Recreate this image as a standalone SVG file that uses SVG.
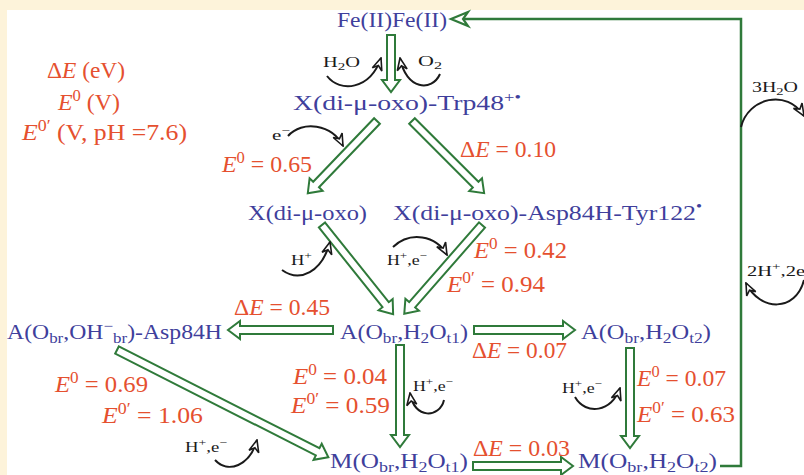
<svg xmlns="http://www.w3.org/2000/svg" width="804" height="475" viewBox="0 0 804 475">
<defs>
<style>
.n{font-family:"Liberation Serif","Times New Roman",serif;font-size:21px;fill:#3f3f9c}
.r{font-family:"Liberation Serif","Times New Roman",serif;font-size:23px;fill:#e5502f}
.k{font-family:"Liberation Serif","Times New Roman",serif;font-size:15px;fill:#1a1a1a}
.i{font-style:italic}
.ga{fill:#fff;stroke:#2f7a3a;stroke-width:2;stroke-linejoin:miter}
.gl{fill:none;stroke:#2f7a3a;stroke-width:2.5}
.ca{fill:none;stroke:#1a1a1a;stroke-width:2;marker-end:url(#oh)}
</style>
<marker id="oh" markerUnits="userSpaceOnUse" viewBox="0 0 14 12" refX="13" refY="6" markerWidth="14" markerHeight="12" orient="auto">
<path d="M1,1 L13,6 L1,11 L5,6 Z" fill="#fff" stroke="#1a1a1a" stroke-width="1.6"/>
</marker>
</defs>
<rect width="804" height="475" fill="#fdf3da"/>
<rect x="7" y="10" width="797" height="465" fill="#fff"/>

<g id="connectors">
<polygon class="ga" points="0,-4 45,-4 45,-9 57,0 45,9 45,4 0,4" transform="translate(391,35) rotate(90)"/>
<polygon class="ga" points="0,-4 88,-4 88,-9 100,0 88,9 88,4 0,4" transform="translate(377,121) rotate(133.8)"/>
<polygon class="ga" points="0,-4 90,-4 90,-9 102,0 90,9 90,4 0,4" transform="translate(412,121) rotate(45)"/>
<polygon class="ga" points="0,-4 102,-4 102,-9 114,0 102,9 102,4 0,4" transform="translate(322,225) rotate(51.4)"/>
<polygon class="ga" points="0,-4 106,-4 106,-9 118,0 106,9 106,4 0,4" transform="translate(482,225) rotate(131.2)"/>
<polygon class="ga" points="0,-4 93,-4 93,-9 105,0 93,9 93,4 0,4" transform="translate(333,330) rotate(180)"/>
<polygon class="ga" points="0,-4 89,-4 89,-9 101,0 89,9 89,4 0,4" transform="translate(474,330)"/>
<polygon class="ga" points="0,-4 90,-4 90,-9 102,0 90,9 90,4 0,4" transform="translate(400,345) rotate(90)"/>
<polygon class="ga" points="0,-4 225,-4 225,-9 237,0 225,9 225,4 0,4" transform="translate(117,350) rotate(26.9)"/>
<polygon class="ga" points="0,-4 88,-4 88,-9 100,0 88,9 88,4 0,4" transform="translate(630,348) rotate(90)"/>
<polygon class="ga" points="0,-4 88,-4 88,-9 100,0 88,9 88,4 0,4" transform="translate(473,466)"/>
<polyline class="gl" points="720,466 741,466 741,19 456,19"/>
<polygon points="468,12 451,19 468,26 463,19" fill="#fff" stroke="#2f7a3a" stroke-width="2.2" stroke-linejoin="miter"/>
<path class="ca" d="M327,76 C340,93 370,90 381,58"/>
<path class="ca" d="M440,74 C432,92 406,90 400,58"/>
<path class="ca" d="M288,136 C302,120 332,124 343,146"/>
<path class="ca" d="M282,270 C300,283 322,272 330,242"/>
<path class="ca" d="M393,247 C410,231 436,235 447,255"/>
<path class="ca" d="M444,400 C440,418 414,420 410,393"/>
<path class="ca" d="M215,460 C228,474 250,466 257,440"/>
<path class="ca" d="M575,397 C586,416 612,412 620,388"/>
<path class="ca" d="M741,127 C748,98 787,88 804,116"/>
<path class="ca" d="M804,280 C796,312 760,312 746,283"/>
</g>

<g id="fe2fe2"><text class="n" x="337" y="27" textLength="110" lengthAdjust="spacingAndGlyphs">Fe(II)Fe(II)</text></g>
<g id="x-trp48"><text class="n" x="293" y="110" textLength="228" lengthAdjust="spacingAndGlyphs">X(di-μ-oxo)-Trp48<tspan font-size="14" dy="-8">+•</tspan></text></g>
<g id="x-dioxo"><text class="n" x="248" y="220" textLength="119" lengthAdjust="spacingAndGlyphs">X(di-μ-oxo)</text></g>
<g id="x-asp-tyr"><text class="n" x="393" y="220" textLength="309" lengthAdjust="spacingAndGlyphs">X(di-μ-oxo)-Asp84H-Tyr122<tspan font-size="14" dy="-9">•</tspan></text></g>
<g id="a-oh-asp"><text class="n" x="7" y="339" textLength="215" lengthAdjust="spacingAndGlyphs">A(O<tspan font-size="15" dy="4">br</tspan><tspan dy="-4">,OH</tspan><tspan font-size="15" dy="-8">−</tspan><tspan font-size="15" dy="12">br</tspan><tspan dy="-4">)-Asp84H</tspan></text></g>
<g id="a-t1"><text class="n" x="340" y="339" textLength="128" lengthAdjust="spacingAndGlyphs">A(O<tspan font-size="15" dy="4">br</tspan><tspan dy="-4">,H</tspan><tspan font-size="15" dy="4">2</tspan><tspan dy="-4">O</tspan><tspan font-size="15" dy="4">t1</tspan><tspan dy="-4">)</tspan></text></g>
<g id="a-t2"><text class="n" x="581" y="339" textLength="130" lengthAdjust="spacingAndGlyphs">A(O<tspan font-size="15" dy="4">br</tspan><tspan dy="-4">,H</tspan><tspan font-size="15" dy="4">2</tspan><tspan dy="-4">O</tspan><tspan font-size="15" dy="4">t2</tspan><tspan dy="-4">)</tspan></text></g>
<g id="m-t1"><text class="n" x="330" y="468" textLength="138" lengthAdjust="spacingAndGlyphs">M(O<tspan font-size="15" dy="4">br</tspan><tspan dy="-4">,H</tspan><tspan font-size="15" dy="4">2</tspan><tspan dy="-4">O</tspan><tspan font-size="15" dy="4">t1</tspan><tspan dy="-4">)</tspan></text></g>
<g id="m-t2"><text class="n" x="578" y="468" textLength="139" lengthAdjust="spacingAndGlyphs">M(O<tspan font-size="15" dy="4">br</tspan><tspan dy="-4">,H</tspan><tspan font-size="15" dy="4">2</tspan><tspan dy="-4">O</tspan><tspan font-size="15" dy="4">t2</tspan><tspan dy="-4">)</tspan></text></g>

<g id="legend">
<text class="r" x="47" y="78" textLength="78" lengthAdjust="spacingAndGlyphs">Δ<tspan class="i">E</tspan> (eV)</text>
<text class="r" x="58" y="110" textLength="62" lengthAdjust="spacingAndGlyphs"><tspan class="i">E</tspan><tspan font-size="16" dy="-9">0</tspan><tspan dy="9"> (V)</tspan></text>
<text class="r" x="22" y="140" textLength="165" lengthAdjust="spacingAndGlyphs"><tspan class="i">E</tspan><tspan font-size="16" dy="-9">0′</tspan><tspan dy="9"> (V, pH =7.6)</tspan></text>
</g>

<g id="labels">
<text class="r" x="222" y="172" textLength="90" lengthAdjust="spacingAndGlyphs"><tspan class="i">E</tspan><tspan font-size="16" dy="-9">0</tspan><tspan dy="9"> = 0.65</tspan></text>
<text class="r" x="460" y="157" textLength="96" lengthAdjust="spacingAndGlyphs">Δ<tspan class="i">E</tspan> = 0.10</text>
<text class="r" x="474" y="258" textLength="93" lengthAdjust="spacingAndGlyphs"><tspan class="i">E</tspan><tspan font-size="16" dy="-9">0</tspan><tspan dy="9"> = 0.42</tspan></text>
<text class="r" x="447" y="292" textLength="98" lengthAdjust="spacingAndGlyphs"><tspan class="i">E</tspan><tspan font-size="16" dy="-9">0′</tspan><tspan dy="9"> = 0.94</tspan></text>
<text class="r" x="234" y="315" textLength="96" lengthAdjust="spacingAndGlyphs">Δ<tspan class="i">E</tspan> = 0.45</text>
<text class="r" x="472" y="358" textLength="95" lengthAdjust="spacingAndGlyphs">Δ<tspan class="i">E</tspan> = 0.07</text>
<text class="r" x="293" y="384" textLength="94" lengthAdjust="spacingAndGlyphs"><tspan class="i">E</tspan><tspan font-size="16" dy="-9">0</tspan><tspan dy="9"> = 0.04</tspan></text>
<text class="r" x="291" y="413" textLength="99" lengthAdjust="spacingAndGlyphs"><tspan class="i">E</tspan><tspan font-size="16" dy="-9">0′</tspan><tspan dy="9"> = 0.59</tspan></text>
<text class="r" x="55" y="392" textLength="93" lengthAdjust="spacingAndGlyphs"><tspan class="i">E</tspan><tspan font-size="16" dy="-9">0</tspan><tspan dy="9"> = 0.69</tspan></text>
<text class="r" x="102" y="423" textLength="101" lengthAdjust="spacingAndGlyphs"><tspan class="i">E</tspan><tspan font-size="16" dy="-9">0′</tspan><tspan dy="9"> = 1.06</tspan></text>
<text class="r" x="473" y="456" textLength="97" lengthAdjust="spacingAndGlyphs">Δ<tspan class="i">E</tspan> = 0.03</text>
<text class="r" x="637" y="386" textLength="89" lengthAdjust="spacingAndGlyphs"><tspan class="i">E</tspan><tspan font-size="16" dy="-9">0</tspan><tspan dy="9"> = 0.07</tspan></text>
<text class="r" x="637" y="422" textLength="98" lengthAdjust="spacingAndGlyphs"><tspan class="i">E</tspan><tspan font-size="16" dy="-9">0′</tspan><tspan dy="9"> = 0.63</tspan></text>

<text class="k" x="323" y="67" textLength="37" lengthAdjust="spacingAndGlyphs">H<tspan font-size="11" dy="3">2</tspan><tspan dy="-3">O</tspan></text>
<text class="k" x="418" y="66" textLength="24" lengthAdjust="spacingAndGlyphs">O<tspan font-size="11" dy="3">2</tspan></text>
<text class="k" x="272" y="140" textLength="18" lengthAdjust="spacingAndGlyphs">e<tspan font-size="11" dy="-6">−</tspan></text>
<text class="k" x="291" y="265" textLength="21" lengthAdjust="spacingAndGlyphs">H<tspan font-size="11" dy="-6">+</tspan></text>
<text class="k" x="387" y="265" textLength="40" lengthAdjust="spacingAndGlyphs">H<tspan font-size="11" dy="-6">+</tspan><tspan dy="6">,e</tspan><tspan font-size="11" dy="-6">−</tspan></text>
<text class="k" x="413" y="391" textLength="40" lengthAdjust="spacingAndGlyphs">H<tspan font-size="11" dy="-6">+</tspan><tspan dy="6">,e</tspan><tspan font-size="11" dy="-6">−</tspan></text>
<text class="k" x="185" y="452" textLength="42" lengthAdjust="spacingAndGlyphs">H<tspan font-size="11" dy="-6">+</tspan><tspan dy="6">,e</tspan><tspan font-size="11" dy="-6">−</tspan></text>
<text class="k" x="562" y="393" textLength="40" lengthAdjust="spacingAndGlyphs">H<tspan font-size="11" dy="-6">+</tspan><tspan dy="6">,e</tspan><tspan font-size="11" dy="-6">−</tspan></text>
<text class="k" x="752" y="92" textLength="46" lengthAdjust="spacingAndGlyphs">3H<tspan font-size="11" dy="3">2</tspan><tspan dy="-3">O</tspan></text>
<text class="k" x="747" y="276" textLength="58" lengthAdjust="spacingAndGlyphs">2H<tspan font-size="11" dy="-6">+</tspan><tspan dy="6">,2e</tspan></text>
</g>
</svg>
